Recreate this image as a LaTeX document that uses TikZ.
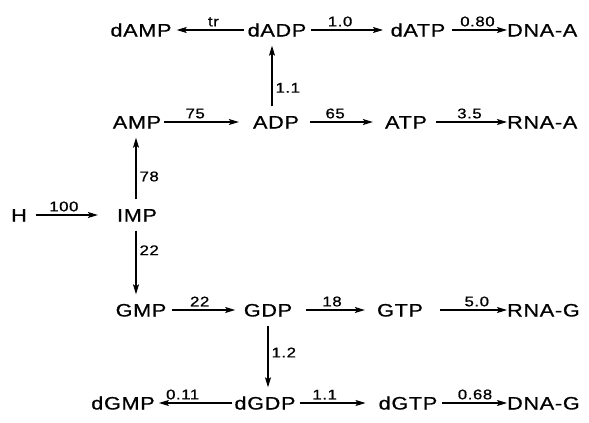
\documentclass[tikz,border=0pt]{standalone}
\usepackage{fontspec}
\setmainfont{Liberation Sans}[FakeStretch=1.2, LetterSpace=4, FakeBold=0.8]
\usetikzlibrary{arrows.meta}
\begin{document}
\begin{tikzpicture}[x=1pt, y=-1pt,
  met/.style={font=\fontsize{18}{20}\selectfont, inner sep=0pt,
              text height=13pt, text depth=0pt},
  rate/.style={font=\fontsize{14}{16}\selectfont, inner sep=3pt},
  flow/.style={line width=1.1pt,
               -{Stealth[length=10pt, width=6pt, inset=2pt]}},
  vflow/.style={flow, shorten <=9pt, shorten >=9pt},
]
\useasboundingbox (0,0) rectangle (589,423);

% metabolites
\node[met] (dAMP) at (141,30) {dAMP};
\node[met] (dADP) at (277,30) {dADP};
\node[met] (dATP) at (418,30) {dATP};
\node[met, anchor=west] (DNAA) at (507,30) {DNA-A};

\node[met] (AMP) at (137,122) {AMP};
\node[met] (ADP) at (276,122) {ADP};
\node[met] (ATP) at (406,122) {ATP};
\node[met, anchor=west] (RNAA) at (507,122) {RNA-A};

\node[met] (H) at (19,215) {H};
\node[met] (IMP) at (137,215) {IMP};

\node[met] (GMP) at (141,310) {GMP};
\node[met] (GDP) at (268,310) {GDP};
\node[met] (GTP) at (400,310) {GTP};
\node[met, anchor=west] (RNAG) at (507,310) {RNA-G};

\node[met] (dGMP) at (123,403) {dGMP};
\node[met] (dGDP) at (265,403) {dGDP};
\node[met] (dGTP) at (408,403) {dGTP};
\node[met, anchor=west] (DNAG) at (507,403) {DNA-G};

% deoxyadenosine row
\draw[flow, shorten <=4pt, shorten >=5pt] (dADP) -- node[rate, above, pos=0.45] {tr} (dAMP);
\draw[flow, shorten <=5pt, shorten >=7.5pt] (dADP) -- node[rate, above, pos=0.4] {1.0} (dATP);
\draw[flow, shorten <=6.5pt] (dATP) -- node[rate, above, pos=0.52] {0.80} (DNAA);

% adenosine row
\draw[flow, shorten <=3pt, shorten >=14pt] (AMP) -- node[rate, above, pos=0.37] {75} (ADP);
\draw[flow, shorten <=11pt, shorten >=12pt] (ADP) -- node[rate, above, pos=0.42] {65} (ATP);
\draw[flow, shorten <=9pt] (ATP) -- node[rate, above, pos=0.53] {3.5} (RNAA);

% entry into IMP
\draw[flow, shorten <=9pt, shorten >=19pt] (H) -- node[rate, above, pos=0.41] {100} (IMP);

% guanosine row
\draw[flow, shorten <=5pt, shorten >=8.5pt] (GMP) -- node[rate, above, pos=0.43] {22} (GDP);
\draw[flow, shorten <=14pt, shorten >=12pt] (GDP) -- node[rate, above, pos=0.47] {18} (GTP);
\draw[flow, shorten <=17pt] (GTP) -- node[rate, above, pos=0.64] {5.0} (RNAG);

% deoxyguanosine row
\draw[flow, shorten <=2pt, shorten >=4pt] (dGDP) -- node[rate, above, pos=0.65] {0.11} (dGMP);
\draw[flow, shorten <=4pt, shorten >=13pt] (dGDP) -- node[rate, above, pos=0.35] {1.1} (dGTP);
\draw[flow, shorten <=5pt] (dGTP) -- node[rate, above, pos=0.54] {0.68} (DNAG);

% vertical fluxes
\draw[vflow] ([xshift=-1pt]IMP.north) -- node[rate, right, pos=0.4] {78} ([xshift=-1pt]AMP.south);
\draw[vflow] ([xshift=-1pt]IMP.south) -- node[rate, right, pos=0.35] {22} ([xshift=-5pt]GMP.north);
\draw[vflow] ([xshift=-4pt]ADP.north) -- node[rate, right, pos=0.35] {1.1} ([xshift=-5pt]dADP.south);
\draw[vflow] (GDP.south) -- node[rate, right, pos=0.45] {1.2} ([xshift=3pt]dGDP.north);
\end{tikzpicture}
\end{document}
